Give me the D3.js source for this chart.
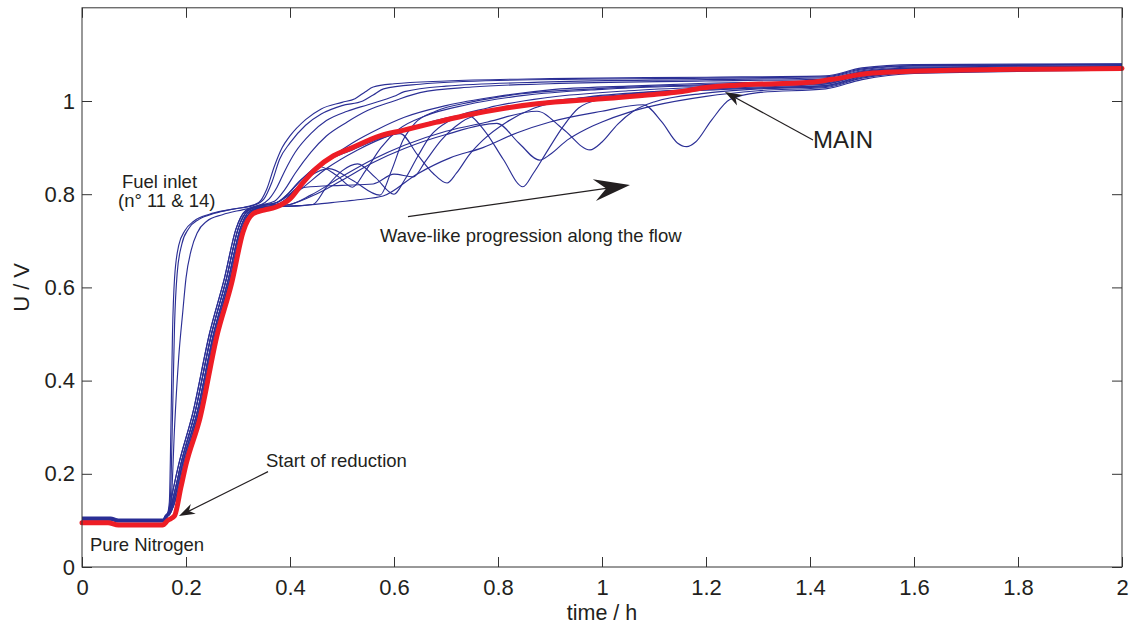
<!DOCTYPE html>
<html>
<head>
<meta charset="utf-8">
<script src="https://cdn.jsdelivr.net/npm/d3@7"></script>
<style>
  html, body { margin: 0; padding: 0; background: #fff; }
  svg { display: block; }
  text { font-family: "Liberation Sans", Arial, Helvetica, sans-serif; fill: #231f20; }
</style>
</head>
<body>
<svg id="chart" width="1138" height="624"></svg>
<script>
// Cell voltage U (V) versus time (h) during anode reduction, one trace per cell.
// Each trace is a list of [time / h, U / V] points.

const xTicks = [0, 0.2, 0.4, 0.6, 0.8, 1, 1.2, 1.4, 1.6, 1.8, 2];
const xTickLabels = ["0", "0.2", "0.4", "0.6", "0.8", "1", "1.2", "1.4", "1.6", "1.8", "2"];
const yTicks = [0, 0.2, 0.4, 0.6, 0.8, 1];
const yTickLabels = ["0", "0.2", "0.4", "0.6", "0.8", "1"];

// Cells at the fuel inlet (n° 11 & 14)
const fuelInlet1 = [[0,0.107],[0.055,0.107],[0.07,0.103],[0.158,0.103],[0.164,0.112],[0.168,0.14],[0.171,0.3],[0.174,0.5],[0.178,0.62],[0.186,0.69],[0.198,0.722],[0.215,0.742],[0.245,0.757],[0.28,0.766],[0.32,0.774],[0.34,0.782],[0.355,0.81],[0.37,0.86],[0.385,0.9],[0.4,0.925],[0.43,0.96],[0.46,0.983],[0.5,0.997],[0.525,1.005],[0.545,1.02],[0.56,1.03],[0.6,1.037],[0.7,1.043],[0.9,1.048],[1.2,1.051],[1.43,1.054],[1.5,1.071],[1.6,1.078],[2,1.08]];
const fuelInlet2 = [[0,0.106],[0.055,0.106],[0.07,0.102],[0.158,0.102],[0.165,0.112],[0.17,0.15],[0.174,0.32],[0.178,0.52],[0.183,0.63],[0.192,0.693],[0.205,0.726],[0.225,0.746],[0.255,0.759],[0.29,0.768],[0.33,0.776],[0.35,0.79],[0.365,0.825],[0.38,0.875],[0.4,0.91],[0.43,0.948],[0.46,0.972],[0.5,0.99],[0.54,1.0],[0.56,1.013],[0.58,1.026],[0.65,1.036],[0.8,1.044],[1.2,1.049],[1.43,1.052],[1.5,1.069],[1.6,1.076],[2,1.079]];
const fuelInlet3 = [[0,0.105],[0.055,0.105],[0.07,0.101],[0.158,0.101],[0.166,0.112],[0.172,0.15],[0.178,0.3],[0.186,0.45],[0.194,0.55],[0.2,0.62],[0.21,0.68],[0.222,0.718],[0.24,0.742],[0.27,0.756],[0.31,0.767],[0.34,0.775],[0.36,0.79],[0.375,0.815],[0.39,0.85],[0.41,0.89],[0.44,0.93],[0.47,0.958],[0.51,0.978],[0.55,0.992],[0.6,1.01],[0.62,1.02],[0.7,1.032],[0.9,1.041],[1.2,1.046],[1.43,1.05],[1.5,1.067],[1.6,1.075],[2,1.078]];

// Cells further along the flow
const cellA = [[0,0.104],[0.055,0.104],[0.07,0.1],[0.155,0.1],[0.16,0.11],[0.166,0.118],[0.176,0.17],[0.186,0.22],[0.213,0.33],[0.245,0.5],[0.274,0.62],[0.296,0.725],[0.315,0.765],[0.34,0.776],[0.37,0.785],[0.39,0.81],[0.41,0.845],[0.44,0.89],[0.47,0.925],[0.51,0.955],[0.55,0.98],[0.6,1.0],[0.65,1.018],[0.75,1.03],[0.9,1.037],[1.2,1.043],[1.43,1.047],[1.5,1.065],[1.6,1.073],[2,1.076]];
const cellB = [[0,0.103],[0.055,0.103],[0.07,0.099],[0.156,0.099],[0.161,0.109],[0.167,0.117],[0.18,0.17],[0.19,0.22],[0.217,0.33],[0.249,0.5],[0.278,0.62],[0.3,0.725],[0.319,0.765],[0.345,0.775],[0.38,0.785],[0.41,0.81],[0.44,0.845],[0.48,0.88],[0.52,0.91],[0.57,0.94],[0.62,0.965],[0.7,0.99],[0.8,1.01],[0.9,1.024],[1.05,1.032],[1.2,1.038],[1.43,1.043],[1.5,1.063],[1.6,1.071],[2,1.075]];
const cellC = [[0,0.104],[0.055,0.104],[0.07,0.1],[0.155,0.1],[0.16,0.11],[0.166,0.118],[0.176,0.17],[0.186,0.22],[0.213,0.33],[0.245,0.5],[0.274,0.62],[0.296,0.725],[0.315,0.765],[0.34,0.776],[0.37,0.78],[0.4,0.805],[0.43,0.84],[0.455,0.86],[0.49,0.84],[0.52,0.815],[0.545,0.85],[0.575,0.9],[0.61,0.94],[0.66,0.968],[0.74,0.992],[0.85,1.012],[1.0,1.025],[1.2,1.033],[1.43,1.039],[1.5,1.06],[1.6,1.069],[2,1.074]];
const cellD = [[0,0.103],[0.055,0.103],[0.07,0.099],[0.156,0.099],[0.161,0.109],[0.167,0.117],[0.18,0.17],[0.19,0.22],[0.217,0.33],[0.249,0.5],[0.278,0.62],[0.3,0.725],[0.319,0.765],[0.345,0.775],[0.38,0.78],[0.41,0.81],[0.44,0.84],[0.475,0.855],[0.52,0.83],[0.573,0.798],[0.595,0.85],[0.617,0.915],[0.64,0.952],[0.68,0.978],[0.75,0.998],[0.85,1.016],[1.0,1.027],[1.2,1.035],[1.43,1.041],[1.5,1.061],[1.6,1.07],[2,1.074]];
const cellE = [[0,0.102],[0.055,0.102],[0.07,0.098],[0.157,0.098],[0.162,0.108],[0.168,0.116],[0.183,0.17],[0.193,0.22],[0.221,0.33],[0.253,0.5],[0.282,0.62],[0.304,0.725],[0.323,0.764],[0.35,0.773],[0.4,0.775],[0.444,0.778],[0.47,0.815],[0.5,0.85],[0.53,0.865],[0.565,0.835],[0.6,0.8],[0.62,0.83],[0.645,0.88],[0.67,0.925],[0.71,0.96],[0.78,0.985],[0.9,1.008],[1.05,1.022],[1.2,1.03],[1.43,1.037],[1.5,1.057],[1.6,1.067],[2,1.072]];
const cellF = [[0,0.102],[0.055,0.102],[0.07,0.098],[0.157,0.098],[0.162,0.108],[0.168,0.116],[0.183,0.17],[0.193,0.22],[0.221,0.33],[0.253,0.5],[0.282,0.62],[0.304,0.725],[0.323,0.764],[0.35,0.773],[0.38,0.78],[0.41,0.805],[0.43,0.815],[0.5,0.819],[0.56,0.822],[0.6,0.843],[0.637,0.837],[0.66,0.87],[0.69,0.915],[0.73,0.955],[0.79,0.98],[0.9,1.0],[1.1,1.017],[1.3,1.028],[1.43,1.033],[1.5,1.053],[1.6,1.064],[2,1.07]];
const cellG = [[0,0.103],[0.055,0.103],[0.07,0.099],[0.156,0.099],[0.161,0.109],[0.167,0.117],[0.18,0.17],[0.19,0.22],[0.217,0.33],[0.249,0.5],[0.278,0.62],[0.3,0.725],[0.319,0.765],[0.345,0.775],[0.38,0.785],[0.42,0.83],[0.46,0.865],[0.52,0.895],[0.575,0.92],[0.612,0.93],[0.645,0.885],[0.675,0.845],[0.702,0.824],[0.72,0.845],[0.745,0.885],[0.771,0.916],[0.817,0.955],[0.87,0.985],[0.95,1.005],[1.1,1.02],[1.3,1.03],[1.43,1.036],[1.5,1.056],[1.6,1.066],[2,1.071]];
const cellH = [[0,0.101],[0.055,0.101],[0.07,0.097],[0.158,0.097],[0.163,0.107],[0.169,0.114],[0.186,0.17],[0.196,0.22],[0.224,0.33],[0.256,0.5],[0.285,0.62],[0.307,0.725],[0.326,0.763],[0.355,0.772],[0.38,0.78],[0.42,0.81],[0.47,0.855],[0.53,0.895],[0.6,0.93],[0.67,0.955],[0.74,0.97],[0.775,0.935],[0.81,0.875],[0.848,0.816],[0.868,0.845],[0.895,0.893],[0.925,0.945],[0.955,0.985],[1.0,1.005],[1.1,1.02],[1.3,1.028],[1.43,1.033],[1.5,1.053],[1.6,1.063],[2,1.069]];
const cellI = [[0,0.101],[0.055,0.101],[0.07,0.097],[0.158,0.097],[0.163,0.107],[0.169,0.114],[0.186,0.17],[0.196,0.22],[0.224,0.33],[0.256,0.5],[0.285,0.62],[0.307,0.725],[0.326,0.763],[0.355,0.772],[0.4,0.778],[0.45,0.8],[0.5,0.83],[0.56,0.868],[0.62,0.898],[0.7,0.928],[0.798,0.952],[0.84,0.91],[0.88,0.873],[0.9,0.885],[0.933,0.916],[0.97,0.94],[1.0,0.955],[1.05,0.975],[1.1,0.99],[1.2,1.01],[1.3,1.022],[1.43,1.029],[1.5,1.049],[1.6,1.061],[2,1.067]];
const cellJ = [[0,0.102],[0.055,0.102],[0.07,0.098],[0.157,0.098],[0.162,0.108],[0.168,0.116],[0.183,0.17],[0.193,0.22],[0.221,0.33],[0.253,0.5],[0.282,0.62],[0.304,0.725],[0.323,0.764],[0.35,0.773],[0.4,0.778],[0.44,0.798],[0.5,0.838],[0.56,0.875],[0.62,0.905],[0.7,0.935],[0.78,0.955],[0.875,0.978],[0.925,0.94],[0.977,0.895],[1.0,0.912],[1.03,0.95],[1.06,0.978],[1.1,0.998],[1.2,1.017],[1.3,1.026],[1.43,1.031],[1.5,1.051],[1.6,1.062],[2,1.068]];
const cellK = [[0,0.101],[0.055,0.101],[0.07,0.097],[0.158,0.097],[0.163,0.107],[0.169,0.114],[0.186,0.17],[0.196,0.22],[0.224,0.33],[0.256,0.5],[0.285,0.62],[0.307,0.725],[0.326,0.763],[0.355,0.772],[0.42,0.775],[0.48,0.782],[0.53,0.788],[0.579,0.796],[0.644,0.843],[0.708,0.878],[0.771,0.9],[0.837,0.932],[0.9,0.955],[1.0,0.978],[1.079,0.992],[1.115,0.955],[1.145,0.91],[1.163,0.902],[1.18,0.912],[1.21,0.958],[1.246,1.003],[1.3,1.018],[1.43,1.026],[1.5,1.046],[1.6,1.059],[2,1.066]];

// Stack voltage (MAIN)
const mainTrace = [[0,0.095],[0.05,0.095],[0.07,0.09],[0.155,0.09],[0.165,0.1],[0.178,0.11],[0.19,0.17],[0.2,0.22],[0.227,0.32],[0.259,0.494],[0.288,0.61],[0.31,0.72],[0.329,0.758],[0.35,0.766],[0.372,0.772],[0.4,0.79],[0.425,0.825],[0.45,0.855],[0.483,0.882],[0.52,0.9],[0.573,0.925],[0.617,0.937],[0.68,0.954],[0.746,0.971],[0.81,0.984],[0.875,0.994],[1.0,1.005],[1.1,1.014],[1.15,1.02],[1.2,1.029],[1.26,1.034],[1.4,1.04],[1.44,1.046],[1.52,1.06],[1.67,1.066],[2,1.07]];

const cellTraces = [fuelInlet1, fuelInlet2, fuelInlet3, cellA, cellB, cellC, cellD, cellE, cellF, cellG, cellH, cellI, cellJ, cellK];

const svg = d3.select("#chart");
const W = 1138, H = 624;
const margin = { left: 82, right: 16, top: 7.8, bottom: 57 };

const x = d3.scaleLinear().domain([0, 2]).range([margin.left, W - margin.right]);
const y = d3.scaleLinear().domain([0, 1.2]).range([H - margin.bottom, margin.top]);

svg.append("rect").attr("width", W).attr("height", H).attr("fill", "#fff");

const line = d3.line()
  .x(d => x(d[0]))
  .y(d => y(d[1]))
  .curve(d3.curveMonotoneX);

// traces
const traces = svg.append("g");
traces.selectAll("path.cell")
  .data(cellTraces)
  .join("path")
  .attr("class", "cell")
  .attr("d", line)
  .attr("fill", "none")
  .attr("stroke", "#2b2f95")
  .attr("stroke-width", 1.15)
  .attr("stroke-linejoin", "round");

traces.append("path")
  .datum(mainTrace)
  .attr("d", line)
  .attr("fill", "none")
  .attr("stroke", "#ee1d25")
  .attr("stroke-width", 5)
  .attr("stroke-linejoin", "round")
  .attr("stroke-linecap", "round");

// axes with inward ticks on all four sides
const tickLen = 10;
const axisColor = "#333";

function styleAxis(g) {
  g.select(".domain").remove();
  g.selectAll(".tick line").attr("stroke", axisColor).attr("stroke-width", 1);
  g.selectAll(".tick text")
    .style("font-family", '"Liberation Sans", Arial, sans-serif')
    .style("font-size", "22px")
    .attr("fill", "#231f20");
}

svg.append("g")
  .attr("transform", `translate(0,${y(0)})`)
  .call(d3.axisBottom(x).tickValues(xTicks).tickFormat((d, i) => xTickLabels[i])
    .tickSizeInner(-tickLen).tickSizeOuter(0).tickPadding(12))
  .call(styleAxis);

svg.append("g")
  .attr("transform", `translate(0,${y(1.2)})`)
  .call(d3.axisTop(x).tickValues(xTicks).tickFormat("")
    .tickSizeInner(-tickLen).tickSizeOuter(0))
  .call(styleAxis);

svg.append("g")
  .attr("transform", `translate(${x(0)},0)`)
  .call(d3.axisLeft(y).tickValues(yTicks).tickFormat((d, i) => yTickLabels[i])
    .tickSizeInner(-tickLen).tickSizeOuter(0).tickPadding(7))
  .call(styleAxis);

svg.append("g")
  .attr("transform", `translate(${x(2)},0)`)
  .call(d3.axisRight(y).tickValues(yTicks).tickFormat("")
    .tickSizeInner(-tickLen).tickSizeOuter(0))
  .call(styleAxis);

svg.append("rect")
  .attr("x", x(0)).attr("y", y(1.2))
  .attr("width", x(2) - x(0)).attr("height", y(0) - y(1.2))
  .attr("fill", "none").attr("stroke", axisColor).attr("stroke-width", 1);

// axis titles
svg.append("text")
  .attr("x", (x(0) + x(2)) / 2).attr("y", 620)
  .attr("text-anchor", "middle")
  .style("font-size", "21.5px")
  .text("time / h");

svg.append("text")
  .attr("transform", `translate(29,${(y(0) + y(1.2)) / 2}) rotate(-90)`)
  .attr("text-anchor", "middle")
  .style("font-size", "22px")
  .text("U / V");

// annotations
const notes = svg.append("g");

function note(t, u, str, size, color) {
  notes.append("text")
    .attr("x", x(t)).attr("y", y(u))
    .style("font-size", size + "px")
    .attr("fill", color || "#231f20")
    .text(str);
}

function arrow(tail, tip, len, halfW, notch) {
  const x0 = x(tail[0]), y0 = y(tail[1]);
  const x1 = x(tip[0]), y1 = y(tip[1]);
  const dx = x1 - x0, dy = y1 - y0;
  const L = Math.hypot(dx, dy);
  const ux = dx / L, uy = dy / L;
  const px = -uy, py = ux;
  const bx = x1 - ux * len, by = y1 - uy * len;
  const nx = x1 - ux * notch, ny = y1 - uy * notch;
  notes.append("line")
    .attr("x1", x0).attr("y1", y0)
    .attr("x2", nx).attr("y2", ny)
    .attr("stroke", "#231f20").attr("stroke-width", 1.2);
  notes.append("path")
    .attr("d", `M${x1},${y1}L${bx + px * halfW},${by + py * halfW}L${nx},${ny}L${bx - px * halfW},${by - py * halfW}Z`)
    .attr("fill", "#231f20");
}

note(0.0769, 0.8133, "Fuel inlet", 18.5);
note(0.0692, 0.7725, "(n° 11 & 14)", 18.5);
note(0.0154, 0.0343, "Pure Nitrogen", 18.5);
note(0.3538, 0.2146, "Start of reduction", 18.5);
note(0.5731, 0.698, "Wave-like progression along the flow", 18.5);
note(1.4058, 0.8991, "MAIN", 24, "#ee1d25");

arrow([0.3577, 0.2046], [0.1865, 0.1094], 16, 5.5, 11);
arrow([0.6269, 0.7517], [1.0538, 0.8197], 36, 11, 24);
arrow([1.4058, 0.9163], [1.2365, 1.0193], 17, 6, 12);
</script>
</body>
</html>
